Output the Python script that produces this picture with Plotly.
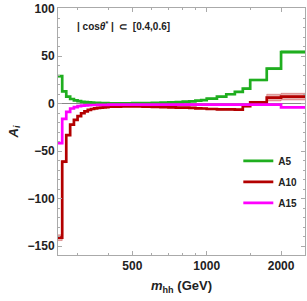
import plotly.graph_objects as go

# bin edges in m_hh (GeV)
edges = ([250, 260, 270, 280, 290, 300, 310, 320, 330, 340, 350, 360, 370, 380, 390, 400,
          450, 500, 550, 600, 650, 700, 750, 800, 850, 900, 950, 1000,
          1100, 1200, 1300, 1400, 1500, 1750, 2000, 2500])

a5 = [29, 13, 7.5, 5, 3.5, 2.7, 2.1, 1.7, 1.4, 1.2, 1.0, 0.9, 0.8, 0.7, 0.6,
      0.5, 0.5, 0.6, 0.8, 1.0, 1.2, 1.5, 1.8, 2.2, 2.6, 3.2, 3.8,
      5.5, 7.5, 10, 12.5, 16, 25, 37, 54.5]
a5_err = [0.8, 0.6, 0.4, 0.3, 0.3, 0.3, 0.3, 0.3, 0.3, 0.3, 0.3, 0.3, 0.3, 0.3, 0.3,
          0.3, 0.3, 0.3, 0.3, 0.3, 0.3, 0.3, 0.3, 0.3, 0.3, 0.4, 0.4,
          0.5, 0.5, 0.6, 0.6, 0.7, 0.8, 1.0, 1.5]

a10 = [-141, -61, -33, -22, -17, -13, -10, -8, -6.5, -5.5, -4.8, -4.3, -4.0, -3.8, -3.6,
       -3.0, -2.8, -2.8, -3.0, -3.2, -3.5, -3.8, -4.0, -4.0, -4.3, -4.8, -5.0,
       -5.5, -6.0, -6.0, -6.2, -2.5, 1.5, 6.5, 7.5]
a10_err = [3.0, 1.0, 0.6, 0.5, 0.4, 0.4, 0.4, 0.4, 0.4, 0.4, 0.4, 0.4, 0.4, 0.4, 0.4,
           0.4, 0.4, 0.4, 0.4, 0.4, 0.4, 0.4, 0.5, 0.5, 0.5, 0.5, 0.5,
           0.6, 0.6, 0.7, 0.7, 0.8, 1.0, 3.5, 3.5]

a15 = [-41.5, -16, -8.5, -5, -3.5, -2.5, -2.0, -1.7, -1.5, -1.3, -1.3, -1.2, -1.2, -1.1, -1.1,
       -1.0, -1.0, -1.0, -1.0, -1.0, -1.0, -1.0, -1.0, -1.0, -1.0, -1.0, -1.0,
       -1.0, -1.0, -1.0, -1.0, -1.0, -1.0, -1.0, -3.8]
a15_err = [0.6] + [0.3] * 34

series = [
    ("A5", a5, a5_err, "#1fae1f", "rgba(31,174,31,0.3)"),
    ("A10", a10, a10_err, "#b30000", "rgba(179,0,0,0.3)"),
    ("A15", a15, a15_err, "#ff00ff", "rgba(255,0,255,0.3)"),
]

fig = go.Figure()
for name, vals, errs, col, fcol in series:
    lo = [v - e for v, e in zip(vals, errs)]
    hi = [v + e for v, e in zip(vals, errs)]
    fig.add_trace(go.Scatter(x=edges, y=lo + [lo[-1]], mode="lines", line_shape="hv",
                             line=dict(color=fcol, width=1), showlegend=False, hoverinfo="skip"))
    fig.add_trace(go.Scatter(x=edges, y=hi + [hi[-1]], mode="lines", line_shape="hv",
                             line=dict(color=fcol, width=1), fill="tonexty", fillcolor=fcol,
                             showlegend=False, hoverinfo="skip"))
for name, vals, errs, col, fcol in series:
    fig.add_trace(go.Scatter(x=edges, y=vals + [vals[-1]], mode="lines", line_shape="hv",
                             line=dict(color=col, width=2.7), name=name, legendgroup=name))

tickfont = dict(family="Liberation Sans, Arial", size=12, color="#222", weight="bold")
axcol = "#aaaaaa"

fig.update_layout(
    width=307, height=301,
    margin=dict(l=58, r=2, t=8, b=46),
    paper_bgcolor="white", plot_bgcolor="white",
    showlegend=True,
    legend=dict(x=0.73, y=0.44, xanchor="left", yanchor="top", bgcolor="rgba(0,0,0,0)",
                font=dict(family="Liberation Sans, Arial", size=10, color="#222", weight="bold"),
                tracegroupgap=2, itemwidth=30),
    xaxis=dict(type="log", range=[2.39794, 3.39794],
               tickvals=[500, 1000, 2000], ticktext=["500", "1000", "2000"],
               ticks="inside", ticklen=4, tickcolor=axcol, showline=True, linecolor=axcol,
               mirror="ticks", showgrid=False, zeroline=False, tickfont=tickfont,
               minor=dict(tickvals=[300, 400, 600, 700, 800, 900, 1500], ticks="inside",
                          ticklen=2, tickcolor=axcol),
               title=dict(text="<b><i>m</i><sub>hh</sub> (GeV)</b>",
                          font=dict(family="Liberation Sans, Arial", size=13, color="#222"),
                          standoff=8)),
    yaxis=dict(range=[-159.2, 100.8], tickvals=[-150, -100, -50, 0, 50, 100],
               ticks="inside", ticklen=4, tickcolor=axcol, showline=True, linecolor=axcol,
               mirror="ticks", showgrid=False, zeroline=True, zerolinecolor="#888888",
               zerolinewidth=1, tickfont=tickfont,
               minor=dict(dtick=10, ticks="inside", ticklen=2, tickcolor=axcol),
               title=dict(text="<b><i>A<sub>i</sub></i></b>",
                          font=dict(family="Liberation Sans, Arial", size=13, color="#222"),
                          standoff=6)),
    annotations=[dict(text="<b>| cos<i>θ</i><sup>*</sup> |  ⊂  [0.4,0.6]</b>",
                      xref="paper", yref="paper", x=0.07, y=0.927, xanchor="left",
                      yanchor="middle", showarrow=False,
                      font=dict(family="Liberation Sans, Arial", size=10, color="#222"))],
)

fig.write_html("out.html", config={"displayModeBar": False},
               post_script="document.body.style.margin='0';document.body.style.overflow='hidden';")
